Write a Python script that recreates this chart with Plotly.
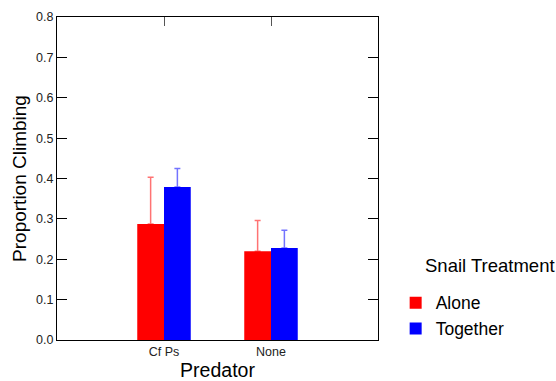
import plotly.graph_objects as go

predators = ["Cf Ps", "None"]
alone_mean = [0.287, 0.220]
alone_err = [0.116, 0.076]
together_mean = [0.379, 0.228]
together_err = [0.046, 0.044]
y_ticks = [0.0, 0.1, 0.2, 0.3, 0.4, 0.5, 0.6, 0.7, 0.8]

FONT = "Arial, Liberation Sans, sans-serif"

fig = go.Figure()
fig.add_trace(go.Bar(
    name="Alone", x=predators, y=alone_mean, marker=dict(color="#ff0000", line=dict(width=0)),
    error_y=dict(type="data", symmetric=False, array=alone_err, arrayminus=[0] * len(alone_err),
                 color="rgba(255,0,0,0.55)", thickness=1.5, width=3),
))
fig.add_trace(go.Bar(
    name="Together", x=predators, y=together_mean, marker=dict(color="#0000ff", line=dict(width=0)),
    error_y=dict(type="data", symmetric=False, array=together_err, arrayminus=[0] * len(together_err),
                 color="rgba(0,0,255,0.55)", thickness=1.5, width=3),
))

fig.update_layout(
    width=556, height=381,
    margin=dict(l=57, r=178, t=17, b=41),
    paper_bgcolor="white", plot_bgcolor="white",
    barmode="group", bargap=0.5, bargroupgap=0,
    font=dict(family=FONT, color="#000"),
    showlegend=True,
    legend=dict(
        font=dict(size=17.5, family=FONT),
        x=1.055, xanchor="left", y=0.171, yanchor="top",
        bgcolor="rgba(0,0,0,0)", tracegroupgap=0, itemwidth=30,
    ),
    annotations=[dict(
        text="Snail Treatment", xref="paper", yref="paper", x=1.14, y=0.23,
        xanchor="left", yanchor="middle", showarrow=False,
        font=dict(size=18.5, family=FONT, color="#000"),
    )],
    xaxis=dict(
        type="category", range=[-1, 2], showline=True, linecolor="#000", linewidth=1,
        ticks="", showgrid=False, zeroline=False, mirror=False, automargin=False,
        tickfont=dict(size=12.5, color="#222"),
        title=dict(text="Predator", font=dict(size=19.5), standoff=6),
    ),
    xaxis2=dict(
        overlaying="x", side="top", range=[-1, 2], type="linear",
        tickmode="array", tickvals=list(range(len(predators))),
        showticklabels=False, ticks="inside", ticklen=9, tickcolor="#555", tickwidth=1,
        showline=True, linecolor="#000", linewidth=1, showgrid=False, zeroline=False,
        automargin=False,
    ),
    yaxis=dict(
        range=[0, 0.8], tickmode="array", tickvals=y_ticks,
        ticktext=[f"{v:.1f}" for v in y_ticks],
        ticks="inside", ticklen=10, tickcolor="#000", tickwidth=1,
        showline=True, linecolor="#000", linewidth=1, mirror="ticks",
        showgrid=False, zeroline=False, automargin=False,
        tickfont=dict(size=12.5, color="#222"),
        title=dict(text="Proportion Climbing", font=dict(size=19), standoff=4),
    ),
)
# invisible trace to activate top axis
fig.add_trace(go.Scatter(x=[None], y=[None], xaxis="x2", showlegend=False, hoverinfo="skip"))

fig.write_html("out.html")
